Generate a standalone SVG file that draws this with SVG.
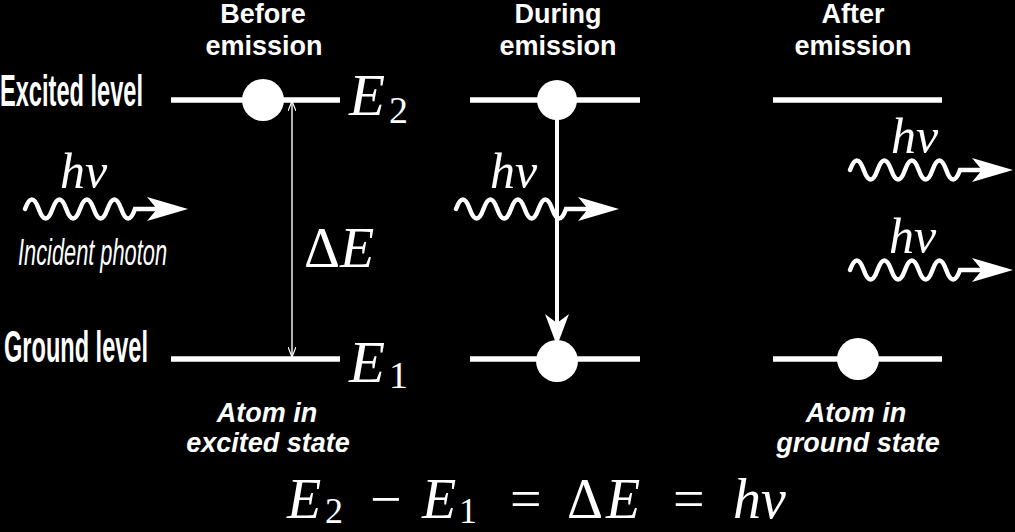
<svg xmlns="http://www.w3.org/2000/svg" xmlns:xlink="http://www.w3.org/1999/xlink" width="1015" height="532" viewBox="0 0 1015 532">
<style>
.lvl{stroke:#fff;stroke-width:5.5;fill:none}
.wave{stroke:#fff;stroke-width:4.5;fill:none;stroke-linecap:round}
.title{font-family:"Liberation Sans",Arial,sans-serif;font-weight:bold;font-size:27px;fill:#fff;text-anchor:middle}
.side{font-family:"Liberation Sans",Arial,sans-serif;font-weight:bold;font-size:44px;fill:#fff}
.note{font-family:"Liberation Sans",Arial,sans-serif;font-weight:bold;font-style:italic;font-size:27px;fill:#fff;text-anchor:middle}
.math{font-family:"Liberation Serif","Times New Roman",serif;fill:#fff}
.it{font-style:italic}
</style>
<defs>
<g id="photon">
<path class="wave" d="M3,0 c4.6,-12.7 9.2,-12.7 13.75,0 s9.2,12.7 13.75,0 s9.2,-12.7 13.75,0 s9.2,12.7 13.75,0 s9.2,-12.7 13.75,0 s9.2,12.7 13.75,0 s9.2,-12.7 13.75,0 s9.2,12.7 13.75,0 L150,0"/>
<polygon fill="#fff" points="166,0 125,-12 135,0 125,12"/>
</g>
<marker id="thinhead" viewBox="0 0 10 8" refX="10" refY="4" markerWidth="10" markerHeight="8" markerUnits="userSpaceOnUse" orient="auto-start-reverse">
<path d="M0,0 L10,4 L0,8" fill="none" stroke="#fff" stroke-width="1.2"/>
</marker>
</defs>
<rect width="1015" height="532" fill="#000"/>

<g id="titles">
<text class="title" x="263" y="23">Before</text>
<text class="title" x="264" y="55">emission</text>
<text class="title" x="558" y="23">During</text>
<text class="title" x="558" y="55">emission</text>
<text class="title" x="853" y="23">After</text>
<text class="title" x="853" y="55">emission</text>
</g>

<g id="side-labels">
<text class="side" x="0" y="106" textLength="143" lengthAdjust="spacingAndGlyphs">Excited level</text>
<text class="side" x="4" y="362" textLength="144" lengthAdjust="spacingAndGlyphs">Ground level</text>
</g>

<g id="before">
<line class="lvl" x1="171" y1="100" x2="340" y2="100"/>
<line class="lvl" x1="171" y1="359" x2="340" y2="359"/>
<circle cx="263" cy="100" r="21" fill="#fff"/>
<text class="math it" x="349" y="115" font-size="59">E</text>
<text class="math" x="389" y="123" font-size="38">2</text>
<text class="math it" x="349" y="382" font-size="59">E</text>
<text class="math" x="389" y="388" font-size="38">1</text>
<text class="math" x="304" y="267" font-size="56">Δ<tspan class="it">E</tspan></text>
</g>

<g id="incident">
<use xlink:href="#photon" transform="translate(22,209)"/>
<text class="math it" x="60" y="188" font-size="50">hν</text>
<text x="18" y="265" font-family="'Liberation Sans',Arial,sans-serif" font-style="italic" font-size="36" fill="#fff" textLength="149" lengthAdjust="spacingAndGlyphs">Incident photon</text>
</g>

<g id="during">
<line class="lvl" x1="470" y1="100" x2="640" y2="100"/>
<line class="lvl" x1="470" y1="359" x2="640" y2="359"/>
<circle cx="557" cy="100" r="20" fill="#fff"/>
<circle cx="557" cy="361" r="21" fill="#fff"/>
<use xlink:href="#photon" transform="translate(453,209)"/>
<text class="math it" x="490" y="188" font-size="50">hν</text>
</g>

<g id="after">
<line class="lvl" x1="773" y1="100" x2="942" y2="100"/>
<line class="lvl" x1="773" y1="359" x2="942" y2="359"/>
<circle cx="858" cy="359" r="21" fill="#fff"/>
<use xlink:href="#photon" transform="translate(847,170)"/>
<text class="math it" x="891" y="153" font-size="50">hν</text>
<use xlink:href="#photon" transform="translate(847,270)"/>
<text class="math it" x="889" y="253" font-size="50">hν</text>
</g>

<g id="connectors">
<line x1="292" y1="101" x2="292" y2="357" stroke="#fff" stroke-width="1.4" marker-start="url(#thinhead)" marker-end="url(#thinhead)"/>
<line x1="557" y1="110" x2="557" y2="325" stroke="#fff" stroke-width="4"/>
<polygon fill="#fff" points="557,346 545,314 557,323 569,314"/>
</g>

<g id="captions">
<text class="note" x="267" y="422">Atom in</text>
<text class="note" x="268" y="452">excited state</text>
<text class="note" x="856" y="422">Atom in</text>
<text class="note" x="858" y="452">ground state</text>
</g>

<g id="equation" class="math" font-size="56">
<text x="0" y="518"><tspan class="it" x="287">E</tspan><tspan x="325" dy="5" font-size="36">2</tspan><tspan x="370" dy="-5">−</tspan><tspan class="it" x="422">E</tspan><tspan x="459" dy="5" font-size="36">1</tspan><tspan x="510" dy="-5">=</tspan><tspan x="567">Δ</tspan><tspan class="it" x="606">E</tspan><tspan x="673">=</tspan><tspan class="it" x="733">hν</tspan></text>
</g>
</svg>
